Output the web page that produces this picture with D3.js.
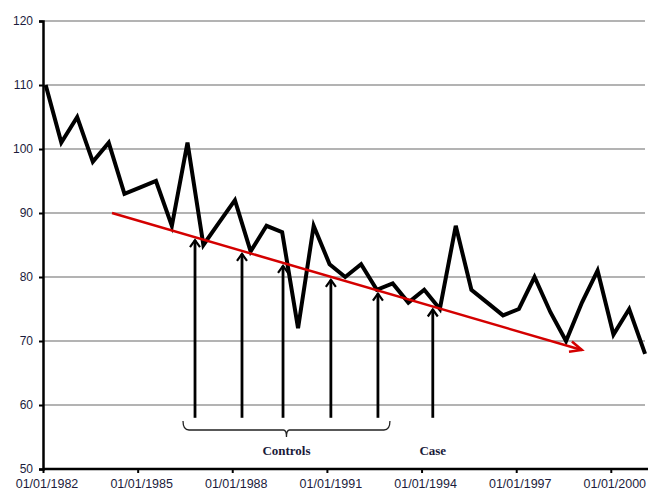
<!DOCTYPE html>
<html>
<head>
<meta charset="utf-8">
<script src="https://cdn.jsdelivr.net/npm/d3@7"></script>
<style>
  html, body { margin: 0; padding: 0; background: #fff; }
  svg { display: block; }
</style>
</head>
<body>
<svg id="chart" width="648" height="490"></svg>
<script>
// Semi-annual observations (February / August), 1982 through 2001
const seriesValues = [
  110, 101, 105, 98, 101, 93, 94, 95, 88, 101,
  85, 88.5, 92, 84, 88, 87, 72, 88, 82, 80,
  82, 78, 79, 76, 78, 75, 88, 78, 76, 74,
  75, 80, 74.5, 70, 76, 81, 71, 75, 68
];
const periods = d3.utcMonth.range(new Date(Date.UTC(1982, 1, 1)), new Date(Date.UTC(2001, 1, 2)), 6);

const yTicks = [50, 60, 70, 80, 90, 100, 110, 120];
const xTickYears = [1982, 1985, 1988, 1991, 1994, 1997, 2000];

// Trend arrow: start and end (date, value)
const trendStart = { date: new Date(Date.UTC(1984, 2, 10)), value: 90 };
const trendEnd = { date: new Date(Date.UTC(1999, 0, 31)), value: 68.6 };

// Event markers
const controlDates = [
  new Date(Date.UTC(1986, 9, 27)),
  new Date(Date.UTC(1988, 3, 23)),
  new Date(Date.UTC(1989, 7, 11)),
  new Date(Date.UTC(1991, 1, 16)),
  new Date(Date.UTC(1992, 7, 14))
];
const caseDates = [new Date(Date.UTC(1994, 4, 11))];
const markerBase = 58;
const labels = { controls: "Controls", cases: "Case" };

const svg = d3.select("#chart");
const plotLeft = 43, plotRight = 647.5, plotTop = 21, plotBottom = 469;

const x = d3.scaleUtc()
  .domain([new Date(Date.UTC(1982, 0, 1)), new Date(Date.UTC(2001, 2, 1))])
  .range([plotLeft, plotRight]);
const y = d3.scaleLinear().domain([50, 120]).range([plotBottom, plotTop]);

// Horizontal gridlines
svg.append("g")
  .selectAll("line")
  .data(yTicks.filter(d => d > 50))
  .join("line")
  .attr("x1", plotLeft).attr("x2", 645)
  .attr("y1", d => y(d)).attr("y2", d => y(d))
  .attr("stroke", "#9a9a9a").attr("stroke-width", 1.3);

// Y axis
const yAxis = svg.append("g")
  .attr("transform", `translate(${plotLeft},0)`)
  .call(d3.axisLeft(y).tickValues(yTicks).tickSize(4).tickPadding(6).tickFormat(d3.format("d")));
yAxis.select(".domain").attr("stroke", "#000").attr("stroke-width", 2.5);
yAxis.selectAll(".tick line").attr("stroke", "#000").attr("stroke-width", 2);
yAxis.selectAll("text")
  .attr("font-family", "'Liberation Sans', Arial, sans-serif")
  .attr("font-size", 12).attr("fill", "#1c1c3c");

// X axis
const xTicks = xTickYears.map(yr => new Date(Date.UTC(yr, 0, 1)));
const xAxis = svg.append("g")
  .attr("transform", `translate(0,${plotBottom})`)
  .call(d3.axisBottom(x).tickValues(xTicks).tickSize(4).tickPadding(6)
    .tickFormat(d3.utcFormat("%m/%d/%Y")));
xAxis.select(".domain").attr("stroke", "#000").attr("stroke-width", 2.5)
  .attr("d", `M${plotLeft},0H648`);
xAxis.selectAll(".tick line").attr("stroke", "#000").attr("stroke-width", 2);
xAxis.selectAll("text")
  .attr("font-family", "'Liberation Sans', Arial, sans-serif")
  .attr("font-size", 12.5).attr("fill", "#1c1c3c")
  .attr("dx", 3.5);

// Main series
const data = periods.map((d, i) => ({ date: d, value: seriesValues[i] }));
svg.append("path")
  .datum(data)
  .attr("fill", "none")
  .attr("stroke", "#000")
  .attr("stroke-width", 4)
  .attr("stroke-linejoin", "miter")
  .attr("stroke-miterlimit", 4)
  .attr("d", d3.line().x(d => x(d.date)).y(d => y(d.value)));

// Trend arrow
const tx0 = x(trendStart.date), ty0 = y(trendStart.value);
const tx1 = x(trendEnd.date), ty1 = y(trendEnd.value);
svg.append("line")
  .attr("x1", tx0).attr("y1", ty0).attr("x2", tx1).attr("y2", ty1)
  .attr("stroke", "#d40000").attr("stroke-width", 2.5);
const ang = Math.atan2(ty1 - ty0, tx1 - tx0);
const headLen = 13, headAng = 0.42;
svg.append("path")
  .attr("d", `M${tx1 - headLen * Math.cos(ang - headAng)},${ty1 - headLen * Math.sin(ang - headAng)}L${tx1},${ty1}L${tx1 - headLen * Math.cos(ang + headAng)},${ty1 - headLen * Math.sin(ang + headAng)}`)
  .attr("fill", "none").attr("stroke", "#d40000").attr("stroke-width", 2.5);

const trendAt = d => {
  const t = (d - trendStart.date) / (trendEnd.date - trendStart.date);
  return trendStart.value + t * (trendEnd.value - trendStart.value);
};

// Vertical marker arrows pointing up to the trend
function drawMarker(d) {
  const mx = x(d);
  const tipY = y(trendAt(d)) + 3;
  const g = svg.append("g").attr("stroke", "#000").attr("fill", "none");
  g.append("line").attr("x1", mx).attr("x2", mx)
    .attr("y1", y(markerBase)).attr("y2", tipY)
    .attr("stroke-width", 2.8);
  g.append("path")
    .attr("d", `M${mx - 5},${tipY + 7}L${mx},${tipY}L${mx + 5},${tipY + 7}`)
    .attr("stroke-width", 2.2);
}
controlDates.forEach(drawMarker);
caseDates.forEach(drawMarker);

// Bracket grouping the controls
const bx0 = x(controlDates[0]) - 12, bx1 = x(controlDates[controlDates.length - 1]) + 12;
const by = 430;
const bmid = (bx0 + bx1) / 2;
svg.append("path")
  .attr("d", `M${bx0},${by - 9}Q${bx0},${by} ${bx0 + 6},${by}H${bmid - 3}Q${bmid},${by} ${bmid},${by + 7}Q${bmid},${by} ${bmid + 3},${by}H${bx1 - 6}Q${bx1},${by} ${bx1},${by - 9}`)
  .attr("fill", "none").attr("stroke", "#222").attr("stroke-width", 1.3);

svg.append("text")
  .attr("x", bmid).attr("y", 455)
  .attr("text-anchor", "middle")
  .attr("font-family", "'Liberation Serif', 'Times New Roman', serif")
  .attr("font-weight", "bold").attr("font-size", 13).attr("fill", "#1a1a3a")
  .text(labels.controls);

svg.append("text")
  .attr("x", x(caseDates[0])).attr("y", 455)
  .attr("text-anchor", "middle")
  .attr("font-family", "'Liberation Serif', 'Times New Roman', serif")
  .attr("font-weight", "bold").attr("font-size", 13).attr("fill", "#1a1a3a")
  .text(labels.cases);
</script>
</body>
</html>
